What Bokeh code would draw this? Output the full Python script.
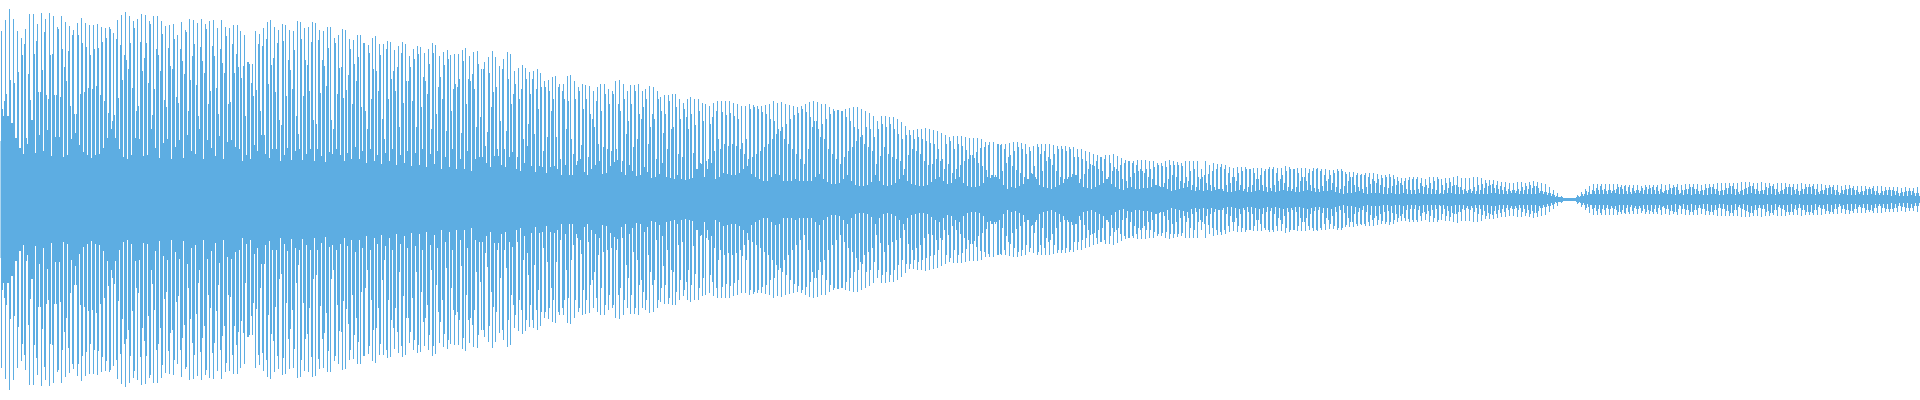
from bokeh.embed import file_html
from bokeh.resources import INLINE
from bokeh.models import ColumnDataSource, Range1d
from bokeh.plotting import figure
import numpy as np

# half-height of the waveform per pixel column, one list per 240 columns
seg1 = [
58,168,90,83, 98,179,105,83, 83,190,119,76, 76,180,116,61, 61,168,127,51,
51,161,144,45, 155,170,61,55, 125,185,99,79, 79,185,145,46, 158,175,107,64,
107,186,129,48, 167,180,104,69, 100,186,144,43, 145,183,104,62, 104,172,170,62,
102,183,150,42, 132,177,118,44, 148,173,93,60, 164,169,85,66, 85,176,164,54,
105,181,156,47, 107,176,152,44, 111,174,144,41, 110,174,150,44, 113,175,151,45,
104,172,157,51, 98,171,161,61, 86,172,170,70, 78,166,84,61, 160,179,101,50,
154,184,119,42, 144,187,139,40, 130,183,156,44, 111,178,171,61, 88,180,93,60,
157,185,128,43, 141,184,156,44, 116,178,175,70, 84,183,110,51, 150,183,144,41,
128,178,165,56, 99,173,92,60, 151,174,133,40, 130,175,160,52, 102,164,96,59,
150,177,138,41, 125,169,167,64, 88,180,119,48, 143,179,155,45, 114,176,83,70,
152,180,138,40, 126,175,170,59, 95,178,108,51, 153,179,143,43, 111,171,85,63,
150,179,136,40, 126,172,163,57, 95,171,97,59, 155,174,126,52, 145,174,132,50,
]
seg2 = [
168,121,38,133, 164,83,44,137, 137,135,40,116, 135,103,54,
168,109,48,155, 165,88,64,153, 171,64,45,160, 177,115,41,
179,134,50,141, 172,107,50,156, 169,79,38,74, 175,158,44,
174,103,51,139, 169,129,39,110, 168,149,48,83, 178,65,50,
177,160,39,103, 171,139,45,134, 172,108,50,157, 177,79,38,
176,75,50,159, 169,106,43,139, 168,133,37,113, 172,151,47,
172,79,45,70, 161,156,50,105, 164,131,44,132, 170,101,38,
169,109,46,124, 160,150,40,95, 159,135,52,118, 164,142,40,
164,92,48,156, 156,88,36,70, 154,146,50,100, 161,130,38,
163,128,44,108, 155,144,35,80, 155,60,46,150, 158,100,38,
157,120,50,128, 149,108,34,132, 153,72,44,146, 157,96,36,
155,118,48,118, 143,132,33,98, 150,140,46,72, 153,145,34,
152,92,50,122, 146,118,32,105, 150,135,45,70, 156,146,35,
154,85,48,112, 143,122,30,100, 147,134,42,68, 149,140,32,
144,88,50,110, 145,115,30,112, 145,120,40,66, 149,138,30,
151,95,48,120, 143,118,28,125, 147,110,40,72, 148,135,42,
]
seg3 = [
82,130,42,130, 137,53,36,67, 142,126,32,92, 148,107,43,
142,112,50,43, 133,78,34,130, 140,50,32,68, 147,120,42,
145,95,47,105, 128,115,30,42, 131,100,28,110, 134,60,36,
131,120,53,75, 127,105,33,120, 128,65,27,110, 130,90,33,
126,112,32,48, 118,112,26,62, 119,108,32,88, 122,100,33,
123,62,30,112, 115,40,24,108, 115,100,34,70, 123,98,24,
124,60,24,45, 118,100,34,38, 112,108,40,54, 115,90,27,
114,100,24,42, 113,85,30,80, 108,72,34,98, 112,55,38,
115,88,25,52, 115,105,26,50, 110,95,33,48, 108,105,37,
118,50,39,95, 119,88,27,38, 115,100,24,65, 108,78,34,
114,95,28,52, 114,108,23,60, 115,85,24,80, 108,92,32,
110,100,27,55, 113,72,21,85, 112,80,22,40, 108,100,25,
102,88,36,66, 104,85,22,50, 104,98,21,70, 105,72,20,
105,92,24,45, 100,80,20,42, 96,90,19,82, 100,70,20,
102,85,21,46, 100,74,30,30, 100,88,36,35, 96,78,22,
95,38,30,40, 93,75,36,82, 96,48,20,88, 98,60,22,
]
seg4 = [
50,98,87,26, 55,98,84,25, 53,98,86,24, 55,96,83,24, 53,95,80,26,
50,93,56,30, 45,93,60,33, 40,95,90,25, 42,94,92,22, 45,93,90,20,
48,93,87,18, 52,94,85,18, 55,95,80,22, 60,98,78,25, 65,96,70,24,
68,97,72,18, 60,95,75,18, 55,94,80,18, 50,93,84,20, 45,92,86,18,
40,93,90,18, 35,95,87,18, 50,97,82,18, 72,98,78,22, 78,97,70,25,
62,95,75,20, 60,95,80,17, 50,92,85,15, 45,90,88,15, 40,89,89,16,
35,88,88,20, 42,90,82,24, 48,91,78,18, 52,92,72,14, 58,92,70,13,
62,90,64,13, 55,88,72,14, 52,86,70,17, 48,83,62,24, 35,78,70,18,
43,83,75,14, 52,83,72,13, 45,82,75,14, 42,82,70,16, 40,80,65,20,
38,77,60,24, 30,73,64,18, 44,69,64,15, 50,69,60,14, 48,70,62,13,
45,70,60,13, 38,71,58,14, 34,70,56,17, 35,69,55,20, 40,68,50,22,
38,66,40,18, 30,64,55,15, 35,62,58,16, 26,63,50,20, 30,63,55,22,
]
seg5 = [
34,63,53,16, 38,62,49,13, 40,61,44,12, 44,61,41,12, 47,61,36,13,
51,60,33,16, 52,57,29,22, 54,57,21,24, 24,57,22,24, 22,55,55,20,
54,55,28,14, 50,55,36,10, 42,56,44,12, 33,57,48,11, 29,57,52,13,
26,56,50,15, 22,55,45,20, 20,52,48,26, 25,53,33,22, 20,55,52,14,
45,55,28,12, 48,55,38,11, 42,55,40,10, 34,54,45,12, 28,53,50,14,
22,53,50,16, 20,53,48,20, 22,52,50,22, 25,52,42,24, 24,50,42,16,
20,50,40,12, 25,48,38,11, 30,47,35,10, 34,45,33,12, 38,44,30,14,
42,42,28,16, 40,44,20,20, 22,44,36,15, 28,45,32,12, 30,43,28,10,
34,41,20,9, 36,39,18,11, 38,38,22,12, 36,38,26,10, 34,39,28,10,
30,39,28,11, 26,39,30,11, 22,38,30,12, 20,38,32,14, 14,36,34,13,
12,36,33,12, 16,38,32,10, 20,39,34,8, 24,38,34,9, 22,37,34,10,
18,36,33,11, 16,38,22,12, 18,38,28,9, 14,38,30,8, 12,38,22,9,
]
seg6 = [
20,30,22,8, 24,38,16,9, 25,34,14,8, 28,36,12,9, 30,35,10,10,
32,35,10,8, 30,34,14,7, 26,32,16,7, 22,31,22,8, 18,32,26,9,
14,32,28,8, 10,32,30,7, 12,30,30,7, 14,31,26,8, 20,31,20,9,
24,31,14,8, 28,30,12,7, 30,32,11,8, 30,32,14,7, 26,31,18,8,
20,31,24,9, 16,33,28,8, 12,32,30,8, 10,30,30,7, 12,31,26,7,
18,31,22,8, 22,31,18,9, 26,30,14,8, 28,31,11,7, 30,31,10,7,
28,30,13,8, 24,30,18,8, 20,29,24,9, 16,29,26,7, 12,30,28,6,
10,30,28,5, 13,27,25,6, 18,27,22,6, 22,27,14,7, 24,26,12,8,
24,25,10,6, 24,26,12,5, 22,26,15,6, 20,26,18,6, 16,25,20,6,
14,24,21,5, 12,24,22,5, 11,25,22,6, 13,24,20,5, 14,22,18,5,
16,21,14,6, 18,21,10,5, 19,22,9,5, 20,22,9,5, 20,22,10,6,
16,21,13,5, 12,20,14,5, 11,22,16,5, 10,22,18,5, 9,22,20,5,
]
seg7 = [
6,20,14,5, 9,21,16,6, 11,21,17,6, 13,22,14,5, 14,23,12,5,
12,21,9,5, 10,21,8,6, 9,21,10,6, 8,22,12,5, 8,22,14,5,
9,21,15,5, 11,19,16,5, 13,19,14,6, 15,19,11,6, 14,18,10,5,
13,17,9,5, 12,17,8,5, 10,16,8,6, 9,16,9,6, 8,17,10,5,
8,17,12,5, 9,16,13,5, 10,17,14,5, 11,18,13,5, 13,17,11,6,
8,16,8,5,
7,15,7,4, 6,12,6,3, 5,9,4,2, 3,6,2,2, 2,3,2,1,
1,1,1,1, 1,1,1,1, 1,1,1,1, 2,4,3,2, 3,7,5,3,
5,10,8,4, 7,13,5,5, 9,15,8,5, 11,15,9,5, 13,15,9,5,
10,15,8,5, 9,15,9,6, 8,15,9,6, 10,15,12,5, 12,14,10,5,
13,14,8,5, 12,14,7,5, 11,14,8,6, 9,14,9,6, 8,13,11,5,
9,14,12,5, 10,14,11,5, 12,14,9,5, 12,14,8,5, 10,15,7,6,
8,14,9,5, 9,15,11,5, 11,14,12,4, 12,15,9,5,
]
seg8 = [
6,14,9,4, 9,15,10,5, 10,15,12,4, 12,15,10,5, 10,15,8,5,
8,14,9,4, 9,15,11,4, 11,15,12,5, 12,15,10,5, 10,16,8,4,
8,16,9,4, 9,16,11,5, 11,16,13,5, 13,16,10,4, 10,16,7,5,
8,17,9,4, 10,17,11,5, 12,17,13,6, 13,16,10,5, 10,16,8,5,
8,17,9,5, 9,16,12,4, 11,16,13,5, 13,15,10,4, 10,16,7,5,
8,16,9,5, 10,16,12,5, 12,15,12,4, 12,15,9,5, 10,15,8,4,
8,16,10,5, 10,15,12,5, 12,15,12,5, 13,15,10,4, 10,15,7,5,
8,15,9,5, 9,14,11,4, 11,14,12,5, 12,14,9,4, 9,14,7,4,
6,13,9,5, 9,14,10,4, 10,14,11,4, 11,13,9,4, 9,13,7,5,
7,13,8,4, 8,13,10,4, 10,12,10,5, 11,13,8,4, 8,13,6,4,
6,13,8,4, 8,12,9,4, 9,12,9,3, 9,12,8,4, 8,12,6,3,
6,11,7,3, 7,12,8,3, 8,11,8,4, 8,11,6,3, 6,12,6,3,
]

segments = [seg1, seg2, seg3, seg4, seg5, seg6, seg7, seg8]
chunk = 240

left, right, top, bottom = [], [], [], []
for k, seg in enumerate(segments):
    for j, a in enumerate(seg[:chunk]):
        x = k * chunk + j
        left.append(x)
        right.append(x + 1)
        top.append(a + 0.5)
        bottom.append(-a - 0.5)

src = ColumnDataSource(dict(left=left, right=right, top=top, bottom=bottom))
# the SVG backend draws half a pixel off; the ranges are shifted to land on whole pixels
p = figure(width=1920, height=400, output_backend="svg", toolbar_location=None,
           x_range=Range1d(0.5, 1920.5), y_range=Range1d(-201, 199),
           min_border=0, background_fill_color="white",
           border_fill_color="white",
           styles={"position": "fixed", "left": "0px", "top": "0px"})
p.axis.visible = False
p.grid.visible = False
p.outline_line_color = None
p.quad(left="left", right="right", top="top", bottom="bottom", source=src,
       fill_color="#5DADE2", fill_alpha=1.0, line_color=None)
open("out.html", "w").write(file_html(p, INLINE))
